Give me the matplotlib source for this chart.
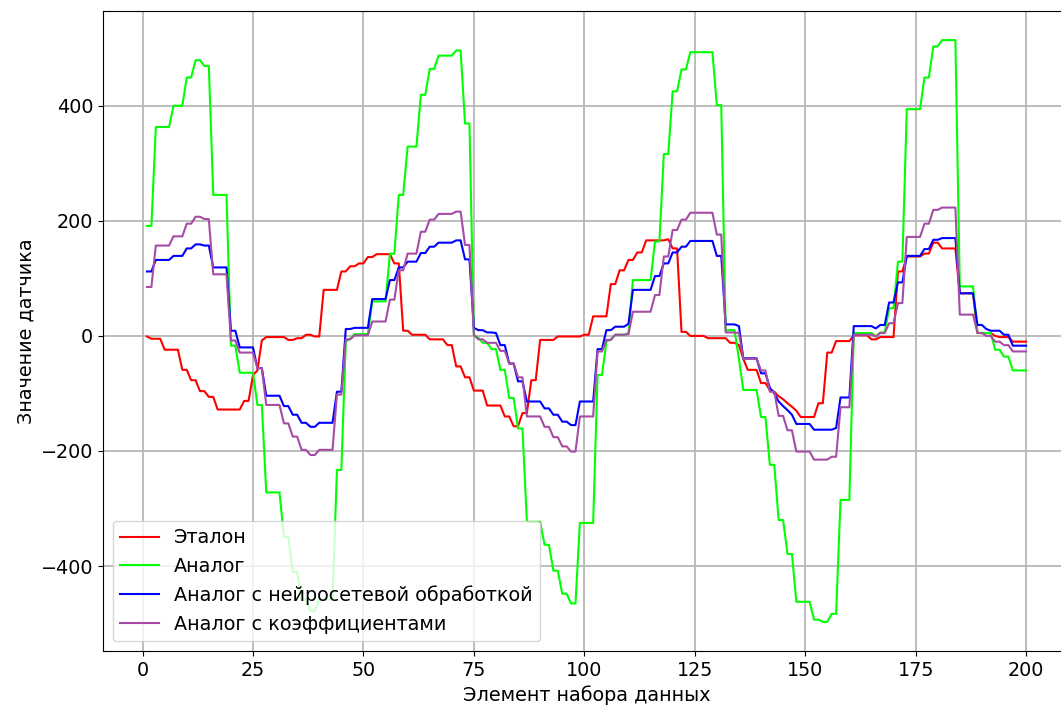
import numpy as np
import matplotlib
matplotlib.use("Agg")
import matplotlib.pyplot as plt

# values, element 1..200
etalon = [
    -1, -5, -5, -5, -24, -24, -24, -24, -59, -59,
    -77, -77, -96, -96, -106, -106, -128, -128, -128, -128,
    -128, -128, -113, -113, -68, -60, -8, -2, -2, -2,
    -2, -2, -7, -7, -4, -4, 2, 2, -1, -1,
    80, 80, 80, 80, 112, 112, 121, 121, 126, 126,
    137, 137, 142, 142, 142, 142, 126, 126, 9, 9,
    2, 2, 2, 2, -6, -6, -6, -6, -16, -16,
    -53, -53, -72, -72, -95, -95, -95, -121, -121, -121,
    -121, -140, -140, -157, -157, -134, -134, -77, -77, -7,
    -7, -7, -7, -1, -1, -1, -1, -1, -1, 2,
    2, 34, 34, 34, 34, 90, 90, 114, 114, 132,
    132, 145, 145, 166, 166, 166, 166, 166, 168, 152,
    152, 7, 7, 0, 0, 0, 0, -4, -4, -4,
    -4, -4, -12, -12, -16, -40, -59, -59, -59, -82,
    -82, -94, -97, -105, -110, -117, -123, -130, -141, -141,
    -141, -141, -117, -117, -29, -29, -9, -9, -9, -9,
    1, 1, 1, 1, -6, -6, -2, -2, -2, -2,
    112, 112, 138, 138, 138, 138, 143, 143, 162, 162,
    152, 152, 152, 152, 74, 74, 74, 74, 5, 5,
    5, 5, 0, -2, -2, -2, -10, -10, -10, -10,
]

analog = [
    191, 191, 363, 363, 363, 363, 400, 400, 400, 449,
    449, 479, 479, 469, 469, 245, 245, 245, 245, -17,
    -17, -64, -64, -64, -64, -120, -120, -272, -272, -272,
    -272, -349, -349, -410, -410, -458, -458, -478, -478, -458,
    -458, -458, -458, -233, -233, -10, -5, 3, 3, 3,
    3, 60, 60, 60, 60, 143, 143, 245, 245, 329,
    329, 329, 419, 419, 464, 464, 487, 487, 487, 487,
    496, 496, 369, 369, 0, -3, -12, -12, -23, -23,
    -59, -59, -108, -108, -161, -161, -323, -323, -323, -323,
    -363, -363, -408, -408, -448, -448, -465, -465, -325, -325,
    -325, -325, -68, -68, -10, -6, 2, 2, 2, 5,
    97, 97, 97, 97, 97, 164, 164, 316, 316, 425,
    425, 463, 463, 493, 493, 493, 493, 493, 493, 401,
    401, 10, 10, 10, -40, -94, -94, -94, -94, -141,
    -141, -224, -224, -320, -320, -379, -379, -462, -462, -462,
    -462, -493, -493, -497, -497, -483, -483, -285, -285, -285,
    5, 5, 5, 5, 5, -1, 6, 6, 48, 48,
    129, 129, 394, 394, 394, 394, 449, 449, 503, 503,
    514, 514, 514, 514, 86, 86, 86, 86, 5, 5,
    5, 5, -24, -24, -36, -36, -60, -60, -60, -60,
]

analog_nn = [
    112, 112, 132, 132, 132, 132, 139, 139, 139, 152,
    152, 159, 159, 157, 157, 119, 119, 119, 119, 9,
    9, -20, -20, -20, -20, -56, -56, -104, -104, -104,
    -104, -122, -122, -137, -137, -151, -151, -158, -158, -151,
    -151, -151, -151, -97, -97, 12, 12, 14, 14, 14,
    14, 64, 64, 64, 64, 97, 97, 119, 119, 129,
    129, 129, 144, 144, 155, 155, 162, 162, 162, 162,
    166, 166, 133, 133, 14, 10, 10, 6, 6, 5,
    -16, -16, -48, -48, -79, -79, -114, -114, -114, -114,
    -126, -126, -137, -137, -149, -149, -155, -155, -114, -114,
    -114, -114, -23, -23, 10, 10, 16, 16, 16, 21,
    80, 80, 80, 80, 80, 104, 104, 126, 126, 145,
    145, 155, 155, 165, 165, 165, 165, 165, 165, 139,
    139, 20, 20, 20, 17, -39, -39, -39, -39, -65,
    -65, -90, -100, -114, -122, -129, -137, -153, -153, -153,
    -153, -163, -163, -163, -163, -163, -160, -107, -107, -107,
    17, 17, 17, 17, 17, 13, 19, 19, 58, 58,
    93, 93, 139, 139, 139, 139, 151, 151, 167, 167,
    170, 170, 170, 170, 74, 74, 74, 74, 19, 19,
    12, 9, 9, 9, 2, 2, -17, -17, -17, -17,
]

analog_coef = [
    85, 85, 157, 157, 157, 157, 173, 173, 173, 195,
    195, 207, 207, 203, 203, 107, 107, 107, 107, -8,
    -8, -29, -29, -29, -29, -56, -56, -120, -120, -120,
    -120, -152, -152, -175, -175, -198, -198, -207, -207, -198,
    -198, -198, -198, -102, -102, -6, -6, 1, 1, 1,
    1, 25, 25, 25, 25, 63, 63, 114, 114, 143,
    143, 143, 181, 181, 202, 202, 212, 212, 212, 212,
    216, 216, 158, 158, 2, -6, -6, -12, -12, -12,
    -26, -26, -48, -48, -72, -72, -140, -140, -140, -140,
    -158, -158, -176, -176, -192, -192, -201, -201, -140, -140,
    -140, -140, -27, -27, -7, -7, 2, 2, 2, 3,
    42, 42, 42, 42, 42, 71, 71, 138, 138, 184,
    184, 202, 202, 214, 214, 214, 214, 214, 214, 176,
    176, 6, 6, 6, 5, -40, -40, -40, -40, -60,
    -60, -97, -97, -139, -139, -164, -164, -201, -201, -201,
    -201, -215, -215, -215, -215, -210, -210, -124, -124, -124,
    2, 2, 2, 2, 2, -1, 5, 5, 22, 22,
    57, 57, 172, 172, 172, 172, 195, 195, 219, 219,
    223, 223, 223, 223, 37, 37, 37, 37, 5, 5,
    0, 0, -10, -10, -16, -16, -27, -27, -27, -27,
]

x = np.arange(1, len(etalon) + 1)

plt.rcParams['font.size'] = 13.8

fig = plt.figure(figsize=(10.61, 7.11), dpi=100)
# right edge of the axes runs past the picture, as in the reference
ax = fig.add_axes([0.0971, 0.0844, 0.9114, 0.9001])

ax.plot(x, etalon, color='#ff0000', lw=1.5, label='Эталон')
ax.plot(x, analog, color='#00ff00', lw=1.5, label='Аналог')
ax.plot(x, analog_nn, color='#0000ff', lw=1.5, label='Аналог с нейросетевой обработкой')
ax.plot(x, analog_coef, color='#a64ca6', lw=1.5, label='Аналог с коэффициентами')

ax.set_xticks([0, 25, 50, 75, 100, 125, 150, 175, 200])
ax.set_yticks([-400, -200, 0, 200, 400])
ax.grid(True, color='#b8b8b8', lw=1.3)
ax.set_xlabel('Элемент набора данных')
ax.set_ylabel('Значение датчика')
ax.legend(loc='lower left')

fig.savefig('out.png', dpi=100)
